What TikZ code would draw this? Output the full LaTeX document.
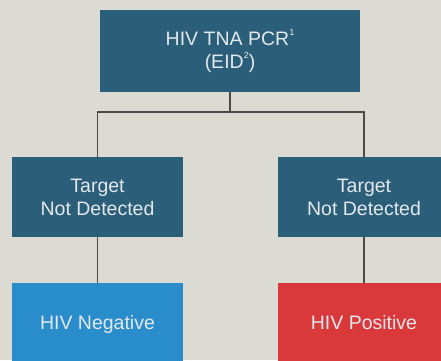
\documentclass[tikz,border=0pt]{standalone}
\usepackage{fontspec}
\setmainfont{Liberation Sans}
\definecolor{bg}{HTML}{DCDBD3}
\definecolor{teal}{HTML}{2B5E78}
\definecolor{blue}{HTML}{2A8DCB}
\definecolor{red}{HTML}{D9393B}
\definecolor{txt}{HTML}{E2E8EC}
\definecolor{ln}{HTML}{4A4A48}
\newcommand{\supr}[1]{\raisebox{0.9ex}{\fontsize{9}{9}\selectfont #1}}
\begin{document}
\begin{tikzpicture}[x=1pt,y=-1pt,
  box/.style={rectangle, inner sep=0pt, align=center, text=txt,
    font=\fontsize{19.5}{23}\selectfont},
  conn/.style={draw=ln, line width=1.4pt}]
\fill[bg] (0,0) rectangle (441,360);
\useasboundingbox (0,0) rectangle (441,360);
\node[box, fill=teal, minimum width=260pt, minimum height=82pt] (top) at (230,51)
  {HIV TNA PCR\supr{1}\\(EID\supr{2})};
\node[box, fill=teal, minimum width=171pt, minimum height=80pt] (ml) at (97.5,197)
  {Target\\Not Detected};
\node[box, fill=teal, minimum width=172pt, minimum height=80pt] (mr) at (364,197)
  {Target\\Not Detected};
\node[box, fill=blue, minimum width=171pt, minimum height=84pt] (bl) at (97.5,325)
  {\strut HIV Negative};
\node[box, fill=red, minimum width=172pt, minimum height=84pt] (br) at (364,325)
  {\strut HIV Positive};
\coordinate (j) at (230,112);
\draw[conn] (top.south) -- (j) -| (ml.north);
\draw[conn] (j) -| (mr.north);
\draw[conn] (ml.south) -- (bl.north);
\draw[conn] (mr.south) -- (br.north);
\end{tikzpicture}
\end{document}
